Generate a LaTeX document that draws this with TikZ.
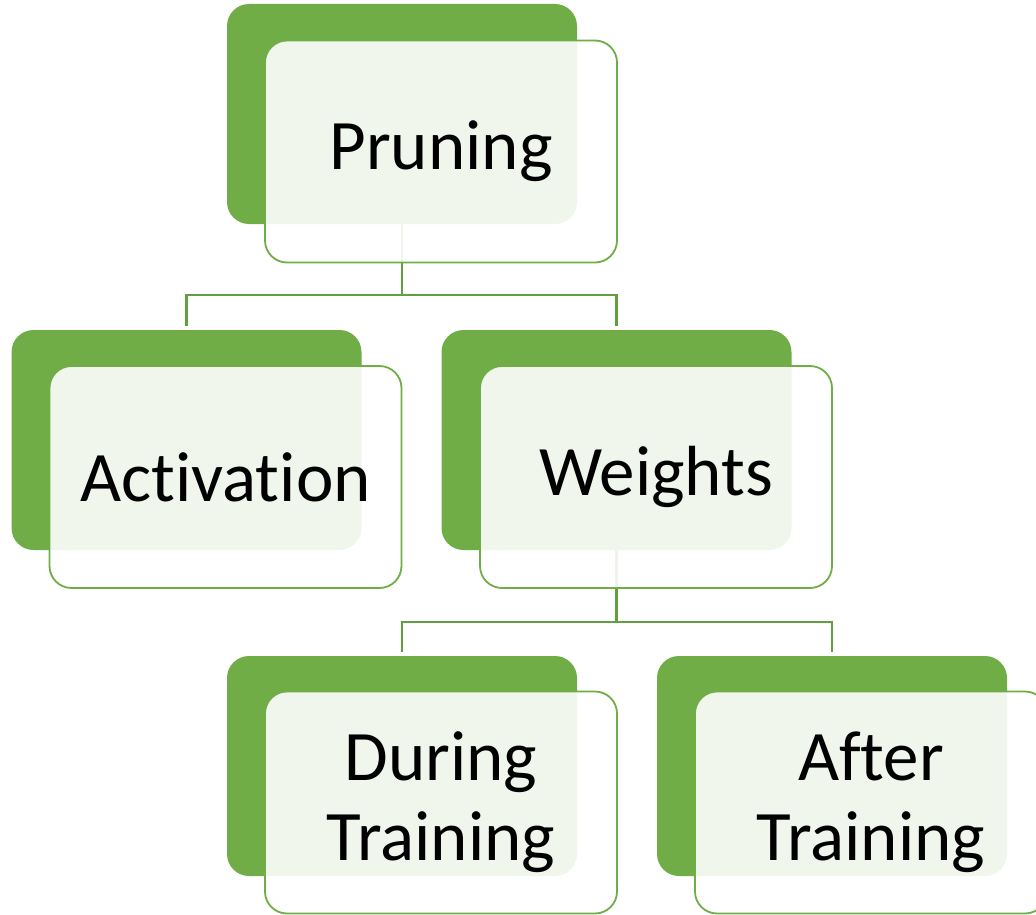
\documentclass[tikz,border=0pt]{standalone}
\usepackage{fontspec}
\setmainfont{Carlito}[Ligatures={NoCommon}]
\usetikzlibrary{calc}
\definecolor{gback}{HTML}{70AD47}
\definecolor{gline}{HTML}{629F3F}
\begin{document}
\begin{tikzpicture}[x=1pt,y=-1pt,
  backbox/.style={fill=gback,draw=none,rounded corners=22pt,inner sep=0pt,
    minimum width=350pt,minimum height=220pt},
  frontbox/.style={fill=white,fill opacity=0.9,text opacity=1,draw=gback,line width=1.8pt,
    rounded corners=22pt,inner sep=0pt,minimum width=352pt,minimum height=222pt,
    align=center,font=\fontsize{71}{80}\selectfont,text=black},
  conn/.style={draw=gline,line width=2.2pt,shorten >=4pt}]
\useasboundingbox (0,0) rectangle (1036,915);
\clip (0,0) rectangle (1036,915);
% back boxes
\node[backbox] (pb) at (402,114) {};
\node[backbox] (ab) at (186.5,440) {};
\node[backbox] (wb) at (616.5,440) {};
\node[backbox] (db) at (402,766) {};
\node[backbox] (tb) at (832,766) {};
% connectors
\coordinate (j1) at ($(pb.south)+(0,71)$);
\coordinate (j2) at ($(wb.south)+(0,72)$);
\draw[conn,shorten >=0pt] (pb.south) -- (j1);
\draw[conn] (j1) -| (ab.north);
\draw[conn] (j1) -| (wb.north);
\draw[conn,shorten >=0pt] (wb.south) -- (j2);
\draw[conn] (j2) -| (db.north);
\draw[conn] (j2) -| (tb.north);
% front boxes
\node[frontbox] (pf) at (441,151.5) {Pruning};
\node[frontbox] (af) at (225.5,477) {Activation};
\node[frontbox] (wf) at (656,477) {Weights};
\node[frontbox] (df) at (441,802.5) {During\\Training};
\node[frontbox] (tf) at (871,802.5) {After\\Training};
\end{tikzpicture}
\end{document}
